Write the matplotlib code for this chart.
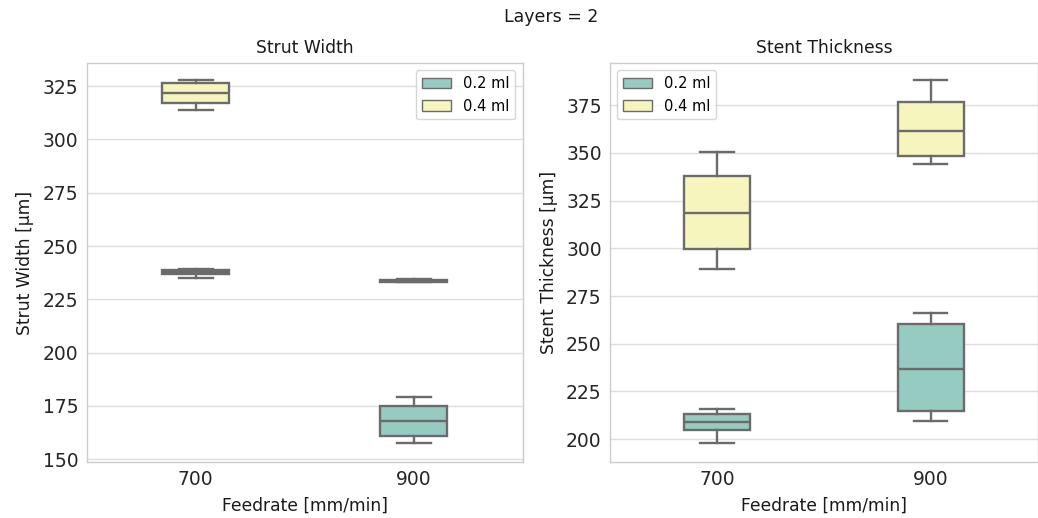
import matplotlib
matplotlib.use("Agg")
import matplotlib.pyplot as plt
from matplotlib.patches import Patch

feedrates = ["700", "900"]
hues = ["0.2 ml", "0.4 ml"]
colors = ["#95cbc0", "#f5f5bd"]
edge = "#6b6b6b"

# Strut Width: per hue, per feedrate -> (whislo, q1, med, q3, whishi)
strut = {
    "0.2 ml": [(235.0, 236.7, 237.6, 238.7, 239.3), (157.4, 160.6, 167.8, 175.0, 179.3)],
    "0.4 ml": [(313.7, 317.3, 322.0, 326.4, 327.8), (233.0, 233.3, 233.7, 234.0, 234.7)],
}
# Stent Thickness
thick = {
    "0.2 ml": [(198.0, 205.0, 209.2, 213.0, 215.7), (209.7, 214.6, 237.0, 260.5, 266.3)],
    "0.4 ml": [(289.4, 299.8, 318.7, 337.9, 350.5), (344.0, 348.4, 361.5, 376.8, 388.2)],
}

panels = [
    ("Strut Width", "Strut Width [µm]", strut, (148.6, 335.8), [150, 175, 200, 225, 250, 275, 300, 325], "upper right"),
    ("Stent Thickness", "Stent Thickness [µm]", thick, (188.0, 397.0), [200, 225, 250, 275, 300, 325, 350, 375], "upper left"),
]

fig = plt.figure(figsize=(10.38, 5.18), dpi=100)
axes = [fig.add_axes([0.0835, 0.108, 0.42, 0.77]), fig.add_axes([0.5877, 0.108, 0.412, 0.77])]

for ax, (title, ylabel, data, ylim, yticks, loc) in zip(axes, panels):
    ax.set_axisbelow(True)
    ax.grid(axis="y", color="#dddddd", linewidth=1.0)
    for h, c in zip(hues, colors):
        stats = []
        for vals in data[h]:
            lo, q1, med, q3, hi = vals
            stats.append(dict(whislo=lo, q1=q1, med=med, q3=q3, whishi=hi, fliers=[]))
        ax.bxp(stats, positions=[0, 1], widths=0.31, patch_artist=True, showfliers=False,
               boxprops=dict(facecolor=c, edgecolor=edge, linewidth=1.7),
               medianprops=dict(color=edge, linewidth=1.7),
               whiskerprops=dict(color=edge, linewidth=1.7),
               capprops=dict(color=edge, linewidth=1.7))
    ax.set_xlim(-0.5, 1.5)
    ax.set_xticks([0, 1])
    ax.set_xticklabels(feedrates)
    ax.set_ylim(*ylim)
    ax.set_yticks(yticks)
    ax.tick_params(axis="both", labelsize=13.5, colors="#262626", length=0, pad=6)
    for s in ax.spines.values():
        s.set_color("#cccccc")
        s.set_linewidth(1.0)
    ax.set_title(title, fontsize=12.3, color="#1a1a1a", pad=7)
    ax.set_ylabel(ylabel, fontsize=12.3, color="#1a1a1a", labelpad=6)
    ax.set_xlabel("Feedrate [mm/min]", fontsize=12.3, color="#1a1a1a", labelpad=5)
    handles = [Patch(facecolor=c, edgecolor=edge, linewidth=1.0, label=h) for h, c in zip(hues, colors)]
    ax.legend(handles=handles, loc=loc, fontsize=10.5, frameon=True, edgecolor="#cccccc",
              handlelength=2.0, borderaxespad=0.5)

fig.suptitle("Layers = 2", fontsize=12.5, color="#1a1a1a", x=0.531, y=0.985)
fig.savefig("out.png", dpi=100)
